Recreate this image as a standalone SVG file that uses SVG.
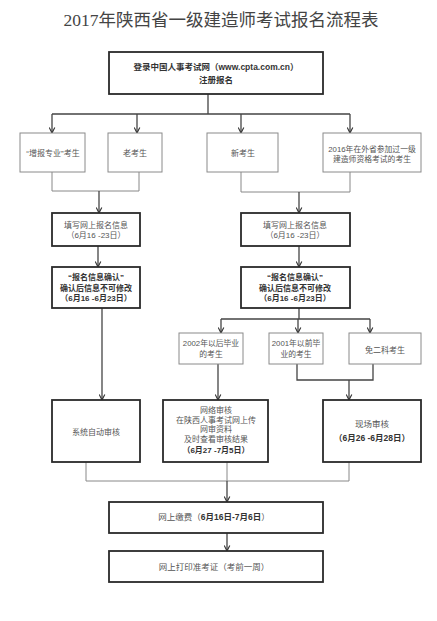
<svg xmlns="http://www.w3.org/2000/svg" width="437" height="621" viewBox="0 0 437 621">
<defs>
<marker id="arr" viewBox="0 0 10 10" refX="9" refY="5" markerWidth="7" markerHeight="7" markerUnits="userSpaceOnUse" orient="auto">
<path d="M1,1 L9,5 L1,9" fill="none" stroke="#333" stroke-width="1.6"/>
</marker>
<style>
text{font-family:"Liberation Sans","Noto Sans CJK SC",sans-serif;text-anchor:middle;font-size:8px;fill:#555;}
.b{font-weight:bold;fill:#333;}
.thick{fill:#fff;stroke:#2a2a2a;stroke-width:1.8;}
.thin{fill:#fff;stroke:#8a8a8a;stroke-width:1;}
.c{fill:none;stroke:#444;stroke-width:1.3;}
.g{fill:none;stroke:#888;stroke-width:1;}
.title{font-family:"Liberation Serif","Noto Sans CJK SC",serif;font-size:17.5px;fill:#444;}
</style>
</defs>
<rect width="437" height="621" fill="#fff"/>
<text class="title" x="221" y="26">2017年陕西省一级建造师考试报名流程表</text>

<g id="connectors">
<path class="c" d="M208,94 V114 M52,114 H350"/>
<path class="c" d="M52,114 V133" marker-end="url(#arr)"/>
<path class="c" d="M137,114 V133" marker-end="url(#arr)"/>
<path class="c" d="M241,114 V133" marker-end="url(#arr)"/>
<path class="c" d="M350,114 V133" marker-end="url(#arr)"/>
<path class="g" d="M52,172 V191 H139 V172"/>
<path class="c" d="M99,191 V213" marker-end="url(#arr)"/>
<path class="g" d="M241,172 V192 H350 V172"/>
<path class="c" d="M299,192 V213" marker-end="url(#arr)"/>
<path class="c" d="M98,246 V267" marker-end="url(#arr)"/>
<path class="c" d="M299,246 V267" marker-end="url(#arr)"/>
<path class="c" d="M102,308 V400" marker-end="url(#arr)"/>
<path class="c" d="M299,308 V319 M221,319 H370"/>
<path class="c" d="M221,319 V333" marker-end="url(#arr)"/>
<path class="c" d="M298,319 V333" marker-end="url(#arr)"/>
<path class="c" d="M370,319 V333" marker-end="url(#arr)"/>
<path class="c" d="M218,364 V400" marker-end="url(#arr)"/>
<path class="c" d="M297,364 V380 H373 V364"/>
<path class="c" d="M349,380 V400" marker-end="url(#arr)"/>
<path class="g" d="M86,462 V481 H349 V462 M227,462 V481"/>
<path class="c" d="M227,481 V502" marker-end="url(#arr)"/>
<path class="c" d="M227,533 V551" marker-end="url(#arr)"/>
</g>

<g id="n-register">
<rect class="thick" x="109" y="52" width="214" height="42"/>
<text class="b" x="216" y="70" style="font-size:8.5px">登录中国人事考试网（www.cpta.com.cn）</text>
<text class="b" x="216" y="83" style="font-size:8.5px">注册报名</text>
</g>
<g id="n-zengbao">
<rect class="thin" x="20" y="133" width="65" height="39"/>
<text x="53" y="156">“增报专业”考生</text>
</g>
<g id="n-lao">
<rect class="thin" x="108" y="133" width="54" height="39"/>
<text x="135" y="156">老考生</text>
</g>
<g id="n-xin">
<rect class="thin" x="207" y="133" width="71" height="39"/>
<text x="243" y="156">新考生</text>
</g>
<g id="n-2016">
<rect class="thin" x="323" y="133" width="98" height="39"/>
<text x="372" y="152" style="font-size:7.8px">2016年在外省参加过一级</text>
<text x="372" y="162" style="font-size:7.8px">建造师资格考试的考生</text>
</g>
<g id="n-fill-left">
<rect class="thick" x="52" y="213" width="88" height="33"/>
<text x="96" y="228">填写网上报名信息</text>
<text x="96" y="238">（6月16 -23日）</text>
</g>
<g id="n-fill-right">
<rect class="thick" x="241" y="213" width="109" height="33"/>
<text x="295" y="228">填写网上报名信息</text>
<text x="295" y="238">（6月16 -23日）</text>
</g>
<g id="n-confirm-left">
<rect class="thick" x="52" y="267" width="88" height="41"/>
<text class="b" x="96" y="280">“报名信息确认”</text>
<text class="b" x="96" y="291">确认后信息不可修改</text>
<text class="b" x="96" y="301">（6月16 -6月23日）</text>
</g>
<g id="n-confirm-right">
<rect class="thick" x="241" y="267" width="109" height="41"/>
<text class="b" x="295" y="280">“报名信息确认”</text>
<text class="b" x="295" y="291">确认后信息不可修改</text>
<text class="b" x="295" y="301">（6月16 -6月23日）</text>
</g>
<g id="n-2002">
<rect class="thin" x="179" y="333" width="64" height="31"/>
<text x="211" y="346" style="font-size:7.8px">2002年以后毕业</text>
<text x="211" y="357" style="font-size:7.8px">的考生</text>
</g>
<g id="n-2001">
<rect class="thin" x="269" y="333" width="54" height="31"/>
<text x="296" y="346" style="font-size:7.8px">2001年以前毕</text>
<text x="296" y="357" style="font-size:7.8px">业的考生</text>
</g>
<g id="n-mian">
<rect class="thin" x="349" y="333" width="72" height="31"/>
<text x="385" y="353">免二科考生</text>
</g>
<g id="n-auto">
<rect class="thick" x="52" y="400" width="88" height="62"/>
<text x="96" y="435">系统自动审核</text>
</g>
<g id="n-online">
<rect class="thick" x="163" y="400" width="105" height="62"/>
<text x="216" y="413">网络审核</text>
<text x="216" y="423">在陕西人事考试网上传</text>
<text x="216" y="432">网审资料</text>
<text x="216" y="442">及时查看审核结果</text>
<text class="b" x="216" y="453">（6月27 -7月5日）</text>
</g>
<g id="n-site">
<rect class="thick" x="323" y="400" width="98" height="62"/>
<text x="372" y="427" style="font-size:8.5px">现场审核</text>
<text class="b" x="372" y="441" style="font-size:8.5px">（6月26 -6月28日）</text>
</g>
<g id="n-pay">
<rect class="thick" x="109" y="502" width="214" height="31"/>
<text x="214" y="520" style="font-size:8.5px">网上缴费（<tspan class="b">6月16日-7月6日</tspan>）</text>
</g>
<g id="n-print">
<rect class="thick" x="109" y="551" width="214" height="31"/>
<text x="214" y="570" style="font-size:8.5px">网上打印准考证（考前一周）</text>
</g>
</svg>
